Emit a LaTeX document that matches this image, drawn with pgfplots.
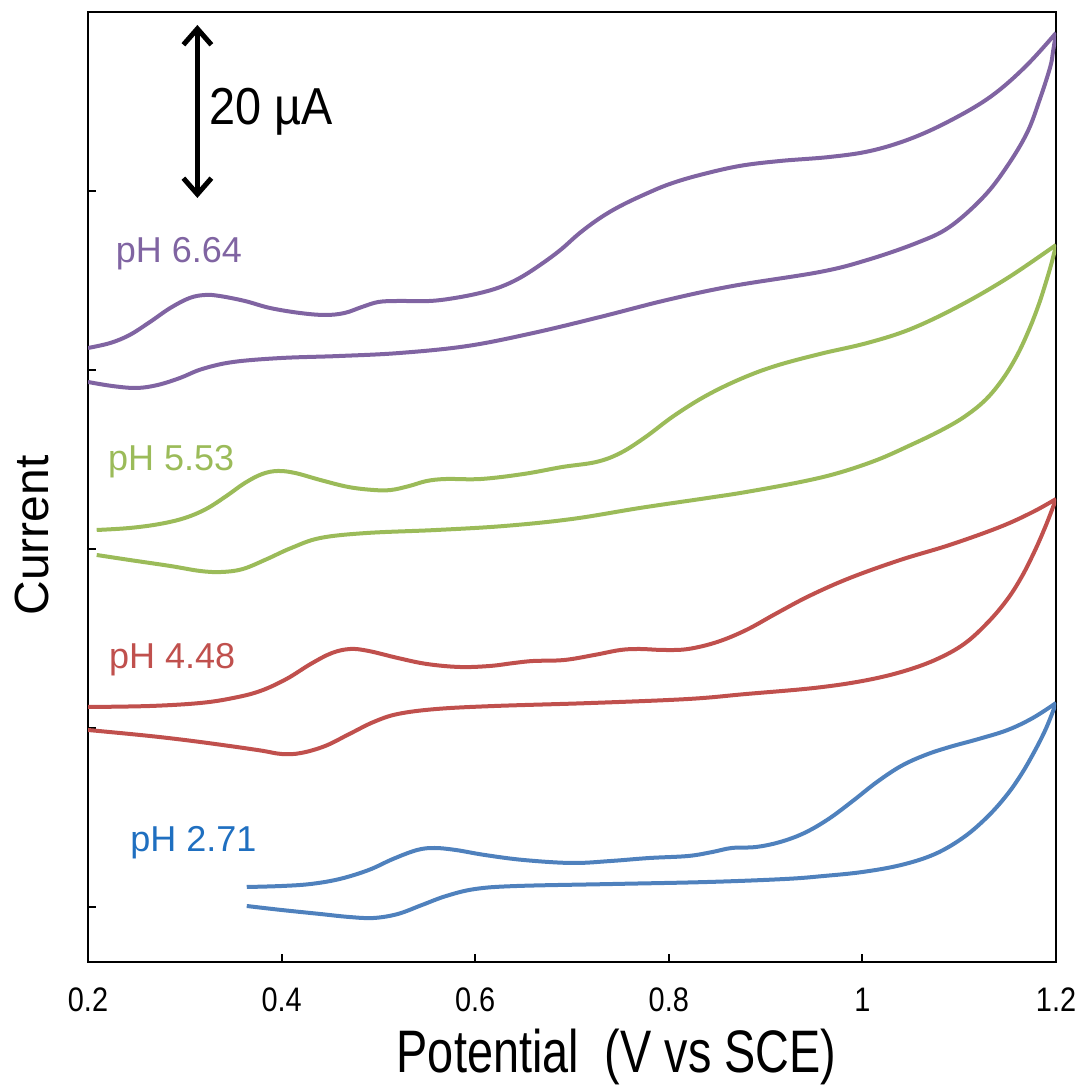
\documentclass[border=0pt]{standalone}
\usepackage{pgfplots}
\pgfplotsset{compat=1.18}
\usepackage{fontspec}
\setmainfont{Liberation Sans}
\usetikzlibrary{arrows.meta}
\definecolor{cpurple}{HTML}{8064A2}
\definecolor{cgreen}{HTML}{9BBB59}
\definecolor{cred}{HTML}{C0504D}
\definecolor{cblue}{HTML}{4F81BD}
\definecolor{clabblue}{HTML}{1F6FC0}
\begin{document}
\begin{tikzpicture}
\begin{axis}[
  scale only axis, width=242pt, height=237.5pt,
  xmin=0.2, xmax=1.2, ymin=0, ymax=950,
  xtick={0.2,0.4,0.6,0.8,1,1.2},
  xticklabels={0.2,0.4,0.6,0.8,1,1.2},
  ytick={55,234,413,592,771,950}, yticklabels={},
  xtick pos=bottom, ytick pos=left, tick align=inside,
  major tick length=2pt,
  axis line style={line width=0.5pt},
  every tick/.style={black, line width=0.5pt},
  /pgf/number format/assume math mode=true,
  xticklabel style={font=\fontsize{8.5}{10}\selectfont, xscale=0.85, yshift=-3pt},
  xlabel={Potential\ \ (V vs SCE)},
  xlabel style={font=\fontsize{15}{18}\selectfont, xscale=0.78, at={(axis description cs:0.546,-0.1)}, anchor=center},
  ylabel={Current},
  ylabel style={font=\fontsize{12}{14}\selectfont, at={(axis description cs:-0.058,0.449)}, anchor=center},
]
% pH 6.64 forward
\addplot[smooth, tension=0.6, line width=1pt, line join=round, cpurple] coordinates {
(0.200,614) (0.223,619) (0.243,627) (0.264,640) (0.285,654) (0.305,664) (0.321,667) (0.336,666) (0.362,661) (0.388,654) (0.419,649) (0.445,647) (0.465,649) (0.483,655) (0.500,660) (0.520,661) (0.553,661) (0.579,664) (0.605,669) (0.626,675) (0.646,684) (0.667,697) (0.688,712) (0.708,729) (0.729,744) (0.750,756) (0.776,768) (0.801,778) (0.832,787) (0.873,796) (0.915,801) (0.966,805) (1.008,811) (1.049,823) (1.090,841) (1.132,865) (1.168,895) (1.200,929)};
% pH 6.64 reverse
\addplot[smooth, tension=0.6, line width=1pt, line join=round, cpurple] coordinates {
(1.200,929) (1.197,911) (1.194,895) (1.183,862) (1.170,829) (1.149,795) (1.125,765) (1.090,735) (1.056,719) (1.005,702) (0.956,690) (0.866,676) (0.798,662) (0.729,645) (0.660,629) (0.592,616) (0.522,609) (0.460,606) (0.400,604) (0.350,600) (0.318,593) (0.295,584) (0.272,577) (0.250,574) (0.225,576) (0.200,580)};
% pH 5.53 forward
\addplot[smooth, tension=0.6, line width=1pt, line join=round, cgreen] coordinates {
(0.209,432) (0.243,434) (0.274,438) (0.300,444) (0.322,453) (0.343,466) (0.362,479) (0.380,488) (0.396,491) (0.414,489) (0.440,482) (0.469,475) (0.495,472) (0.513,472) (0.532,476) (0.550,481) (0.570,483) (0.606,483) (0.650,488) (0.690,495) (0.725,500) (0.750,509) (0.776,525) (0.805,546) (0.838,566) (0.874,583) (0.910,596) (0.956,608) (1.005,619) (1.050,633) (1.100,656) (1.150,684) (1.200,717)};
% pH 5.53 reverse
\addplot[smooth, tension=0.6, line width=1pt, line join=round, cgreen] coordinates {
(1.200,717) (1.196,701) (1.190,681) (1.182,657) (1.172,632) (1.160,607) (1.145,583) (1.127,562) (1.105,545) (1.080,531) (1.050,517) (1.015,502) (0.975,489) (0.936,480) (0.880,470) (0.840,464) (0.770,454) (0.700,443) (0.630,436) (0.560,432) (0.488,429) (0.440,424) (0.410,414) (0.385,403) (0.360,393) (0.338,390) (0.316,391) (0.285,396) (0.243,402) (0.209,407)};
% pH 4.48 forward
\addplot[smooth, tension=0.6, line width=1pt, line join=round, cred] coordinates {
(0.200,255) (0.264,256) (0.316,259) (0.350,264) (0.378,271) (0.405,283) (0.430,298) (0.452,309) (0.471,313) (0.490,311) (0.520,304) (0.550,298) (0.584,295) (0.615,296) (0.640,299) (0.660,301) (0.692,302) (0.723,307) (0.750,312) (0.770,313) (0.795,312) (0.820,313) (0.850,320) (0.880,332) (0.910,348) (0.945,366) (0.987,384) (1.039,402) (1.090,417) (1.142,435) (1.176,450) (1.200,463)};
% pH 4.48 reverse
\addplot[smooth, tension=0.6, line width=1pt, line join=round, cred] coordinates {
(1.200,463) (1.195,450) (1.188,433) (1.178,411) (1.165,386) (1.150,363) (1.130,340) (1.105,318) (1.075,302) (1.040,290) (1.000,281) (0.950,274) (0.880,268) (0.820,263) (0.720,259) (0.620,256) (0.560,253) (0.520,248) (0.495,240) (0.470,228) (0.445,216) (0.420,209) (0.400,208) (0.375,212) (0.316,220) (0.264,226) (0.200,232)};
% pH 2.71 forward
\addplot[smooth, tension=0.6, line width=1pt, line join=round, cblue] coordinates {
(0.364,75) (0.400,76) (0.430,78) (0.460,83) (0.490,92) (0.515,103) (0.540,112) (0.558,114) (0.580,112) (0.610,107) (0.650,102) (0.700,99) (0.740,101) (0.780,104) (0.820,106) (0.845,110) (0.865,114) (0.890,115) (0.915,120) (0.940,129) (0.965,143) (0.990,161) (1.015,180) (1.040,196) (1.065,207) (1.090,215) (1.120,223) (1.150,232) (1.176,244) (1.200,259)};
% pH 2.71 reverse
\addplot[smooth, tension=0.6, line width=1pt, line join=round, cblue] coordinates {
(1.200,259) (1.195,246) (1.188,230) (1.178,211) (1.165,189) (1.150,168) (1.130,146) (1.105,125) (1.075,108) (1.040,97) (1.000,90) (0.960,86) (0.920,83) (0.840,80) (0.742,78) (0.643,76) (0.600,73) (0.570,66) (0.545,57) (0.520,48) (0.495,44) (0.470,45) (0.440,48) (0.400,52) (0.364,56)};
\node[anchor=west, inner sep=0pt, text=cpurple, font=\fontsize{9}{11}\selectfont] at (axis cs:0.228,708) {pH 6.64};
\node[anchor=west, inner sep=0pt, text=cgreen, font=\fontsize{9}{11}\selectfont] at (axis cs:0.220,500) {pH 5.53};
\node[anchor=west, inner sep=0pt, text=cred, font=\fontsize{9}{11}\selectfont] at (axis cs:0.221,302) {pH 4.48};
\node[anchor=west, inner sep=0pt, text=clabblue, font=\fontsize{9}{11}\selectfont] at (axis cs:0.243,119) {pH 2.71};
\draw[{Straight Barb[length=4pt,width=7pt]}-{Straight Barb[length=4pt,width=7pt]}, line width=1.25pt] (axis cs:0.313,764) -- (axis cs:0.313,937);
\node[anchor=west, inner sep=0pt, font=\fontsize{13}{15}\selectfont, xscale=0.9] at (axis cs:0.325,850) {20 µA};
\end{axis}
\pgfresetboundingbox
\path[use as bounding box] ([xshift=-22pt,yshift=-31.5pt]current axis.south west) rectangle ([xshift=6.25pt,yshift=3pt]current axis.north east);
\end{tikzpicture}
\end{document}
